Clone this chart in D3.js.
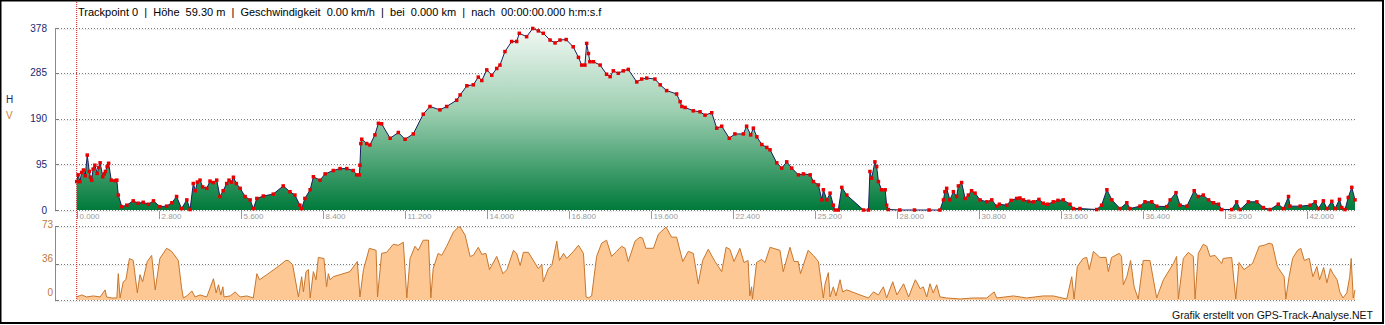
<!DOCTYPE html>
<html>
<head>
<meta charset="UTF-8">
<title>Höhenprofil</title>
<script src="https://d3js.org/d3.v7.min.js"></script>
<style>
body{margin:0;background:#fff;}
svg{display:block;font-family:"Liberation Sans",Arial,sans-serif;}
</style>
</head>
<body>
<svg id="chart"></svg>
<script>
// Höhe (m) über Strecke (km)
const distH = [0.00,0.05,0.11,0.17,0.23,0.29,0.36,0.43,0.47,0.51,0.56,0.62,0.70,0.75,0.80,0.89,0.94,0.98,1.04,1.09,1.18,1.31,1.37,1.42,1.54,1.71,1.93,2.10,2.27,2.45,2.62,2.84,3.07,3.25,3.41,3.58,3.76,3.87,3.98,4.05,4.12,4.21,4.30,4.44,4.55,4.66,4.78,4.89,5.00,5.12,5.20,5.28,5.35,5.45,5.58,5.75,5.92,6.03,6.15,6.37,6.71,7.05,7.28,7.45,7.62,7.68,7.79,7.97,8.08,8.31,8.48,8.76,8.99,9.22,9.44,9.56,9.65,9.67,9.70,9.73,9.90,10.01,10.18,10.30,10.41,10.70,10.98,11.21,11.49,11.83,12.06,12.40,12.63,12.97,13.09,13.32,13.54,13.71,13.83,14.00,14.17,14.34,14.45,14.62,14.85,15.02,15.11,15.36,15.57,15.76,15.93,16.16,16.33,16.50,16.71,16.95,17.13,17.24,17.35,17.41,17.47,17.52,17.64,17.87,18.09,18.21,18.32,18.49,18.66,18.83,19.12,19.29,19.46,19.74,19.92,20.14,20.48,20.60,20.66,20.77,21.05,21.28,21.45,21.68,21.85,22.02,22.28,22.47,22.76,22.87,23.01,23.10,23.22,23.39,23.56,23.67,23.90,24.07,24.24,24.41,24.64,24.81,25.04,25.15,25.32,25.44,25.49,25.61,25.72,25.83,25.89,26.00,26.12,26.29,26.86,27.03,27.08,27.14,27.25,27.31,27.37,27.48,27.60,27.65,27.71,28.10,28.60,29.10,29.47,29.59,29.64,29.70,29.81,29.93,30.04,30.10,30.21,30.33,30.44,30.55,30.67,30.84,31.07,31.24,31.41,31.50,31.75,31.90,32.09,32.20,32.32,32.50,32.66,32.85,33.00,33.15,33.34,33.50,33.68,33.91,34.03,34.25,34.82,34.99,35.17,35.34,35.62,35.85,35.96,36.30,36.47,36.70,36.87,37.21,37.33,37.53,37.67,37.90,38.15,38.29,38.46,38.64,38.81,38.98,39.09,39.43,39.60,39.72,40.00,40.29,40.51,40.74,41.02,41.20,41.37,41.42,41.77,42.11,42.28,42.39,42.56,42.68,42.85,42.96,43.11,43.19,43.30,43.41,43.53,43.64];
const elev = [59,73,59,78,83,71,114,80,68,62,85,93,76,88,98,69,75,80,90,97,62,61,62,31,7,10,19,14,16,12,19,7,8,15,28,3,21,1,55,40,58,62,48,45,60,57,62,28,40,55,62,58,68,55,45,28,21,3,24,29,33,50,38,31,10,3,24,42,69,62,75,82,86,86,82,73,73,93,138,147,138,135,156,180,179,149,161,147,158,199,215,208,215,228,239,258,260,276,269,291,280,294,301,329,350,350,367,360,377,372,367,353,347,353,354,339,317,301,301,346,325,308,308,301,282,277,289,284,289,292,266,272,274,272,260,248,241,225,215,213,206,204,197,202,170,174,149,158,158,174,156,170,152,136,130,125,98,87,100,87,73,75,73,59,52,21,42,21,35,10,0,0,47,31,0,0,80,66,100,90,59,42,42,10,1,0,0,0,0,21,38,45,21,38,28,50,57,24,31,40,35,21,17,21,8,12,10,20,24,25,21,18,17,22,14,12,17,20,21,12,3,3,1,10,42,21,3,15,3,8,17,17,8,7,21,36,10,8,40,28,31,21,15,12,1,1,17,1,17,17,5,1,12,3,28,8,8,10,17,3,19,3,18,3,22,5,1,26,47,21];

// Geschwindigkeit (km/h) über Strecke (km)
const distV = [0.00,0.17,0.34,0.57,0.80,0.97,1.02,1.20,1.37,1.42,1.48,1.59,1.68,1.80,1.93,2.07,2.16,2.25,2.41,2.56,2.68,2.84,3.07,3.24,3.47,3.58,3.64,3.76,3.93,4.04,4.21,4.44,4.67,4.76,4.84,4.92,4.99,5.03,5.24,5.41,5.58,5.81,6.03,6.15,6.24,6.49,6.83,7.14,7.22,7.37,7.57,7.68,7.74,7.83,7.91,7.97,8.08,8.17,8.25,8.44,8.53,8.59,8.65,8.76,8.99,9.33,9.58,9.67,9.79,9.99,10.22,10.27,10.41,10.58,10.81,10.98,11.15,11.27,11.38,11.55,11.66,11.83,12.01,12.09,12.17,12.34,12.46,12.63,12.86,13.03,13.09,13.26,13.43,13.54,13.71,13.83,13.97,14.09,14.34,14.55,14.69,14.91,15.02,15.14,15.25,15.42,15.76,15.88,15.93,16.10,16.22,16.39,16.48,16.62,16.73,16.96,17.13,17.30,17.39,17.47,17.58,17.75,17.92,18.09,18.26,18.43,18.60,18.72,18.83,19.06,19.23,19.32,19.43,19.69,19.86,20.12,20.31,20.48,20.69,20.88,21.05,21.22,21.37,21.56,21.79,22.02,22.17,22.30,22.44,22.64,22.78,22.92,22.98,23.04,23.07,23.21,23.38,23.50,23.67,24.01,24.12,24.35,24.49,24.63,24.71,24.97,25.15,25.32,25.49,25.55,25.66,25.72,25.83,25.92,26.06,26.15,26.29,26.74,27.03,27.20,27.37,27.54,27.65,27.86,28.00,28.23,28.40,28.63,28.80,28.90,29.02,29.13,29.24,29.36,29.47,29.70,30.16,30.61,31.07,31.32,31.41,31.98,32.43,33.00,33.34,33.80,33.97,34.05,34.16,34.36,34.48,34.57,34.71,34.93,35.14,35.22,35.33,35.59,35.67,35.73,35.85,35.98,36.10,36.24,36.41,36.64,36.87,37.10,37.44,37.55,37.61,37.78,37.95,38.12,38.18,38.29,38.46,38.58,38.69,38.86,39.09,39.14,39.43,39.57,39.68,39.85,40.14,40.37,40.54,40.71,40.82,40.99,41.22,41.28,41.39,41.51,41.68,41.79,41.91,42.08,42.20,42.34,42.43,42.57,42.68,42.80,42.89,43.03,43.12,43.23,43.36,43.46,43.51,43.58,43.64];
const speed = [3,5,3,4,3,10,3,2,2,26,2,18,20,41,39,7,25,18,38,44,10,41,51,48,39,12,2,4,9,3,5,3,21,7,15,5,13,3,4,8,3,4,2,26,20,25,32,39,39,35,3,23,8,28,30,2,28,20,42,41,13,26,20,23,25,28,38,3,30,51,49,3,46,47,55,54,57,2,41,53,49,59,59,2,31,46,44,53,67,72,72,64,43,44,52,45,46,30,43,26,30,49,46,34,47,47,31,35,18,31,34,58,39,46,41,48,54,46,3,2,4,43,56,59,43,48,53,51,38,58,62,61,51,51,65,72,62,62,38,48,46,16,39,50,38,28,52,50,38,51,37,39,4,13,1,37,40,37,52,49,28,52,38,38,26,49,44,38,2,16,27,3,13,4,20,8,10,5,2,8,5,13,2,18,5,16,3,20,11,13,3,16,7,15,3,2,1,2,2,8,2,4,2,4,4,1,23,1,33,41,42,30,48,42,42,28,42,46,43,15,23,39,13,1,39,39,2,20,36,43,1,41,47,43,1,46,55,53,43,44,36,41,42,1,37,30,36,53,54,56,55,33,23,1,23,41,49,51,39,41,23,33,20,32,17,31,26,20,8,2,7,23,41,2,10];

const hTicks = [0, 95, 190, 285, 378];
const vTicks = [0, 36, 73];
const xTicks = [0, 2.8, 5.6, 8.4, 11.2, 14, 16.8, 19.6, 22.4, 25.2, 28, 30.8, 33.6, 36.4, 39.2, 42];

const title = "Trackpoint 0  |  Höhe  59.30 m  |  Geschwindigkeit  0.00 km/h  |  bei  0.000 km  |  nach  00:00:00.000 h:m:s.f";
const footer = "Grafik erstellt von GPS-Track-Analyse.NET";

const W = 1385, H = 325;
const axisX = 55, plotRight = 1355;

const svg = d3.select("#chart").attr("width", W).attr("height", H);

const x = d3.scaleLinear().domain([0, 43.64]).range([76.7, plotRight]);
const yH = d3.scaleLinear().domain([0, 378]).range([210, 28]);
const yV = d3.scaleLinear().domain([0, 73]).range([300, 226]);
const yVLabel = d3.scaleLinear().domain([0, 73]).range([292, 224]);

const hData = distH.map((d, i) => [d, elev[i]]);
const vData = distV.map((d, i) => [d, speed[i]]);

// gradient
const grad = svg.append("defs").append("linearGradient")
    .attr("id", "gh")
    .attr("gradientUnits", "userSpaceOnUse")
    .attr("x1", 0).attr("x2", 0)
    .attr("y1", yH(378)).attr("y2", yH(0));
grad.append("stop").attr("offset", "0%").attr("stop-color", "#f2f9f4");
grad.append("stop").attr("offset", "45%").attr("stop-color", "#9fd0b3");
grad.append("stop").attr("offset", "100%").attr("stop-color", "#007a3b");

// gridlines
function grid(vals, scale) {
    vals.forEach(v => {
        const yy = Math.round(scale(v)) + 0.5;
        svg.append("line")
           .attr("x1", axisX).attr("x2", plotRight)
           .attr("y1", yy + 1).attr("y2", yy + 1)
           .attr("stroke", "#e2e2e2").attr("stroke-dasharray", "1,1");
        svg.append("line")
           .attr("x1", axisX).attr("x2", plotRight)
           .attr("y1", yy).attr("y2", yy)
           .attr("stroke", "#7a7a7a").attr("stroke-dasharray", "1,2");
        svg.append("line")
           .attr("x1", axisX).attr("x2", axisX + 4)
           .attr("y1", yy).attr("y2", yy)
           .attr("stroke", "#7a7a7a");
    });
}
grid(hTicks, yH);
grid(vTicks, yV);

// y axis lines
svg.append("line").attr("x1", axisX + 0.5).attr("x2", axisX + 0.5)
   .attr("y1", yH(378)).attr("y2", yH(0)).attr("stroke", "#8a8a8a");
svg.append("line").attr("x1", axisX + 0.5).attr("x2", axisX + 0.5)
   .attr("y1", yV(73)).attr("y2", yV(0)).attr("stroke", "#8a8a8a");

// y labels
svg.selectAll("text.hl").data(hTicks).enter().append("text")
   .attr("class", "hl")
   .attr("x", 47).attr("y", d => yH(d))
   .attr("dy", "0.35em")
   .attr("text-anchor", "end")
   .attr("font-size", "10px")
   .attr("fill", "#1c2670")
   .text(d => d);

svg.selectAll("text.vl").data(vTicks).enter().append("text")
   .attr("class", "vl")
   .attr("x", 53).attr("y", d => yVLabel(d))
   .attr("dy", "0.35em")
   .attr("text-anchor", "end")
   .attr("font-size", "10px")
   .attr("fill", "#c0773a")
   .text(d => d);

svg.append("text").attr("x", 6).attr("y", 103).attr("font-size", "10px")
   .attr("fill", "#1c2670").text("H");
svg.append("text").attr("x", 6).attr("y", 119).attr("font-size", "10px")
   .attr("fill", "#d0802a").text("V");

// elevation area
const areaH = d3.area().x(d => x(d[0])).y0(yH(0)).y1(d => yH(d[1]));
const lineH = d3.line().x(d => x(d[0])).y(d => yH(d[1]));
svg.append("path").datum(hData).attr("d", areaH).attr("fill", "url(#gh)");
svg.append("path").datum(hData).attr("d", lineH)
   .attr("fill", "none").attr("stroke", "#1a1f5c").attr("stroke-width", 1);
svg.selectAll("rect.pt").data(hData).enter().append("rect")
   .attr("class", "pt")
   .attr("x", d => x(d[0]) - 1.75).attr("y", d => yH(d[1]) - 1.75)
   .attr("width", 3.5).attr("height", 3.5)
   .attr("fill", "#e60000");

// x ticks
xTicks.forEach(t => {
    const xx = Math.round(x(t)) + 0.5;
    svg.append("line").attr("x1", xx).attr("x2", xx)
       .attr("y1", 211).attr("y2", 219).attr("stroke", "#9a9a9a");
    svg.append("text").attr("x", xx + 2).attr("y", 218.5)
       .attr("font-size", "8px").attr("fill", "#9a9a9a")
       .text(t.toFixed(3));
});

// speed area
const areaV = d3.area().x(d => x(d[0])).y0(yV(0)).y1(d => yV(d[1]));
const lineV = d3.line().x(d => x(d[0])).y(d => yV(d[1]));
svg.append("path").datum(vData).attr("d", areaV).attr("fill", "#fdc893");
svg.append("path").datum(vData).attr("d", lineV)
   .attr("fill", "none").attr("stroke", "#c8762c").attr("stroke-width", 1);

// cursor
svg.append("line").attr("x1", x(0)).attr("x2", x(0))
   .attr("y1", 2).attr("y2", 300)
   .attr("stroke", "#cc1010").attr("stroke-dasharray", "1,1");

// title + footer
svg.append("text").attr("x", 78).attr("y", 16)
   .attr("font-size", "11px").attr("fill", "#000")
   .attr("xml:space", "preserve").style("white-space", "pre")
   .text(title);
svg.append("text").attr("x", 1373).attr("y", 319)
   .attr("text-anchor", "end")
   .attr("font-size", "10.5px").attr("fill", "#111")
   .text(footer);

// frame
svg.append("rect").attr("x", 0.5).attr("y", 0.5)
   .attr("width", W - 2.5).attr("height", H - 2.5)
   .attr("fill", "none").attr("stroke", "#000").attr("stroke-width", 2);
</script>
</body>
</html>
